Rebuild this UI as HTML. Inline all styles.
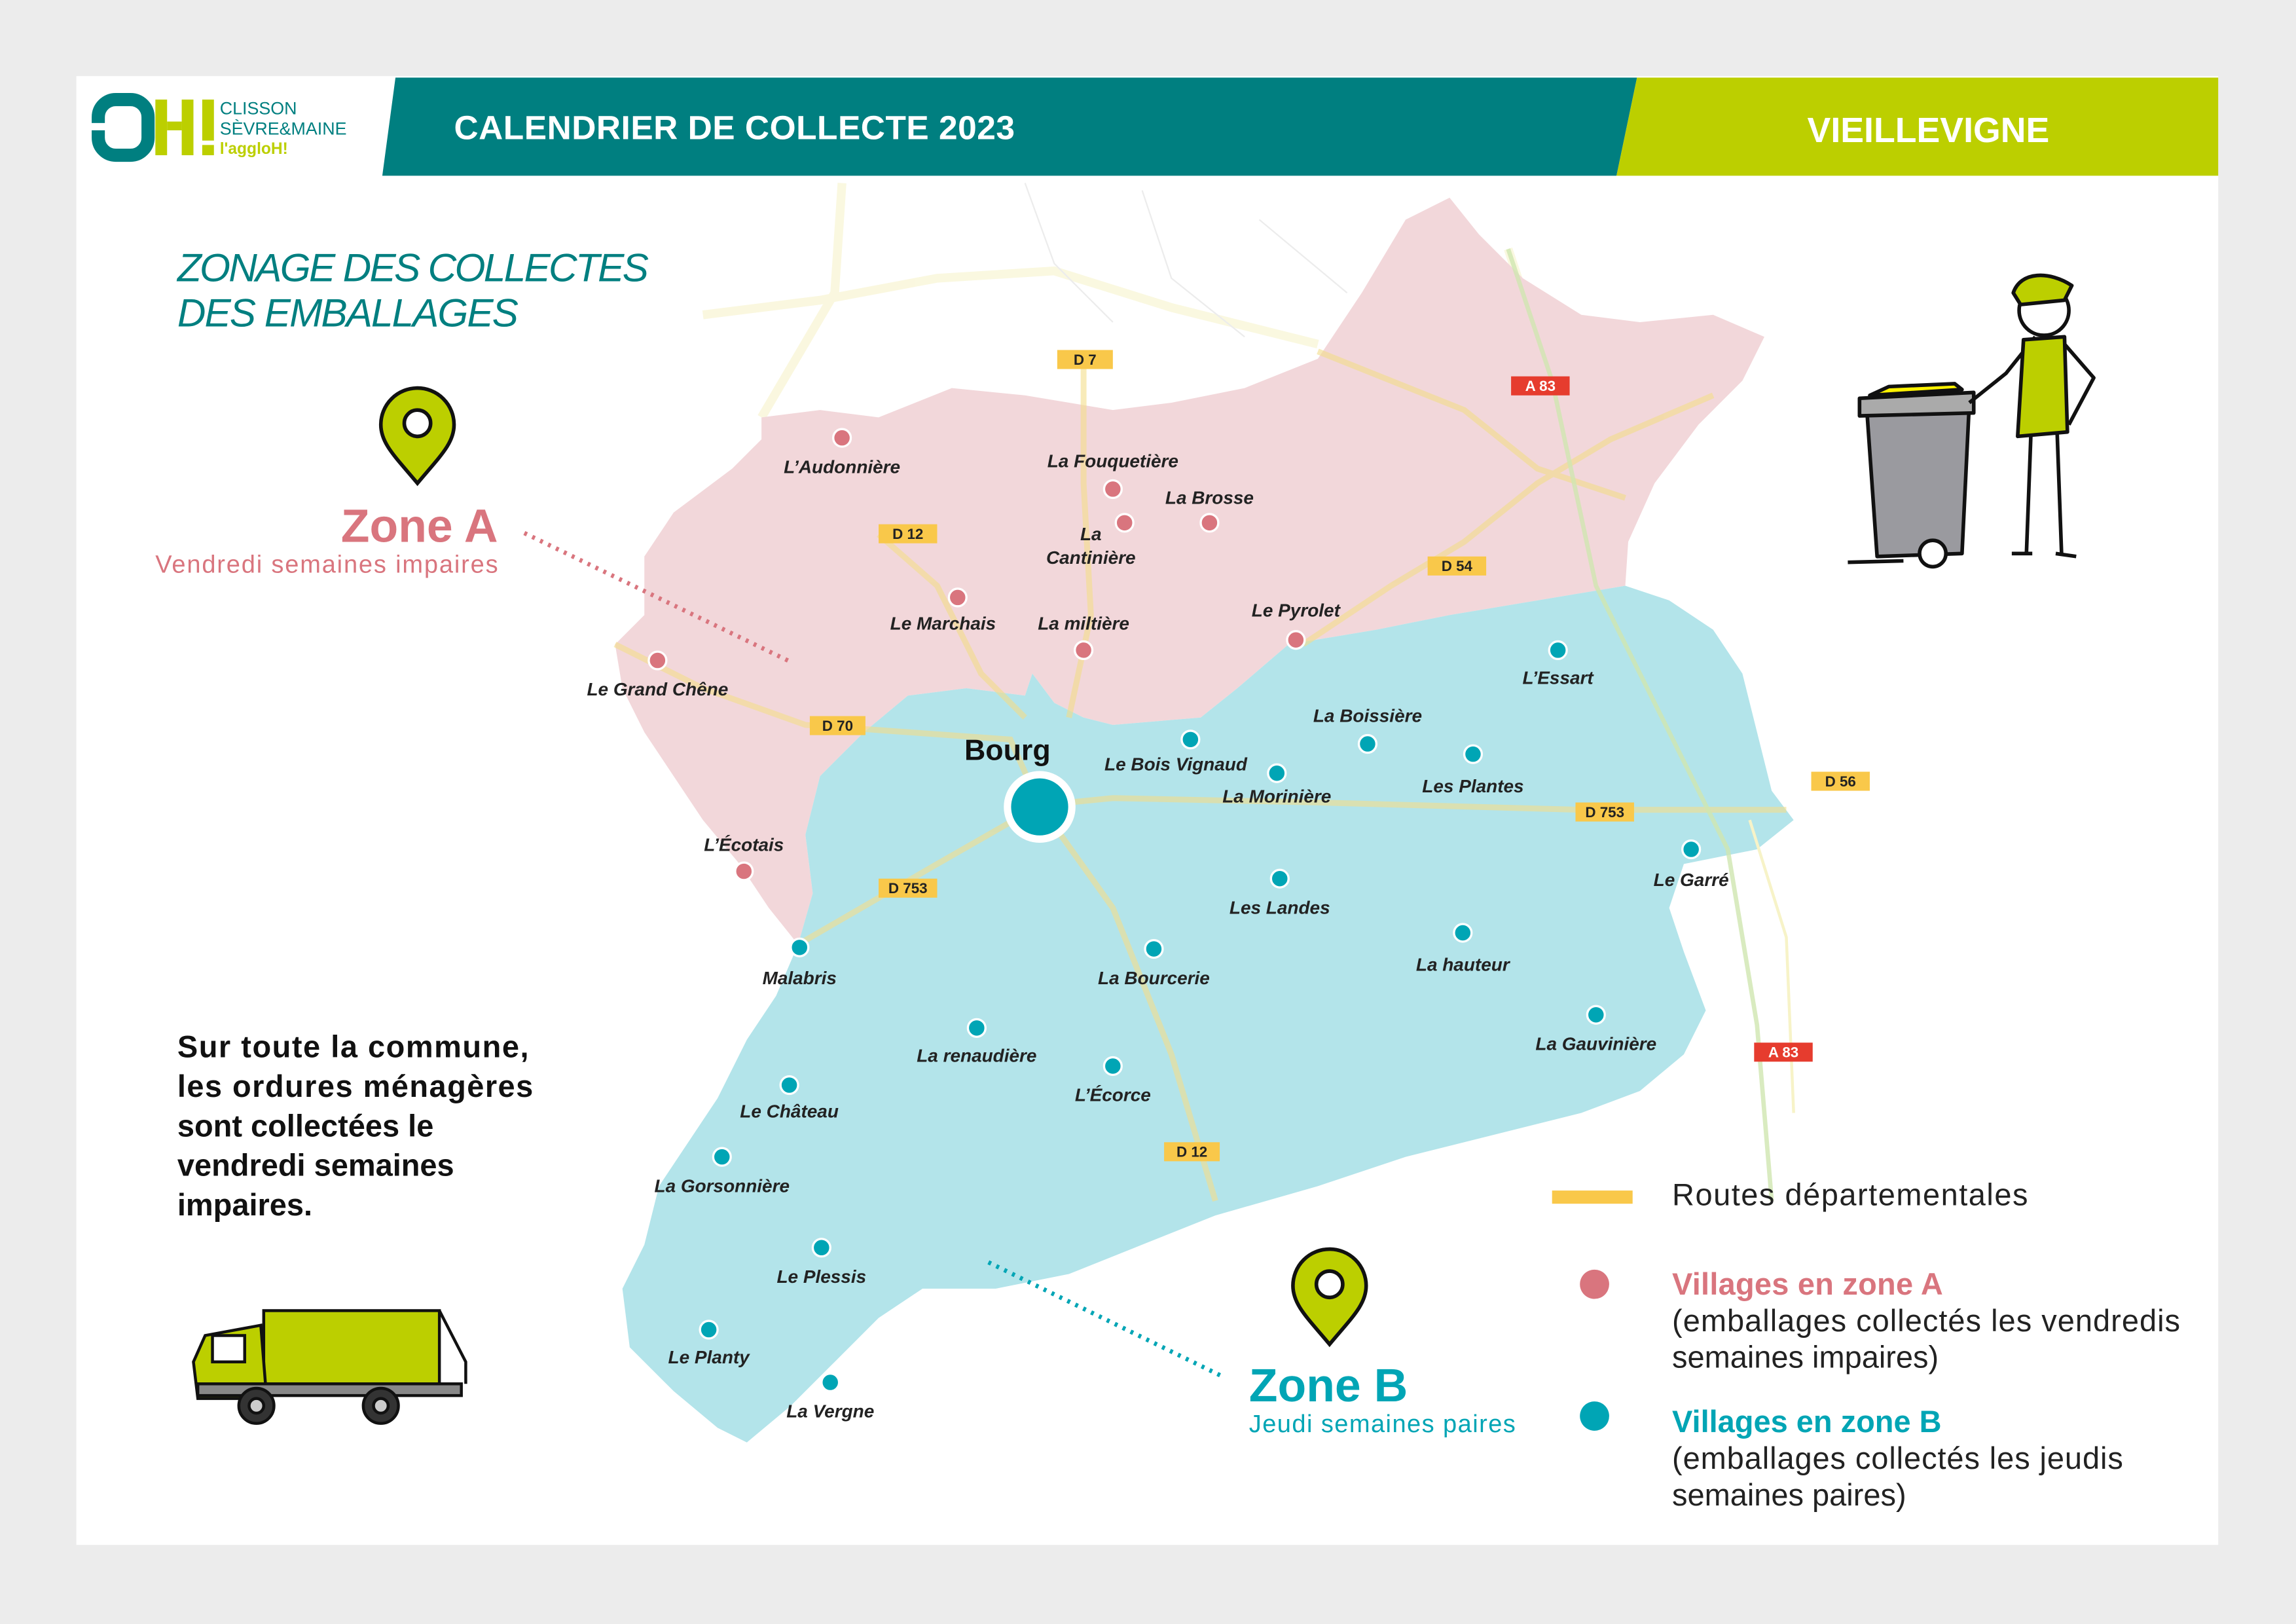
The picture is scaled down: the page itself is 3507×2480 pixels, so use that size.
<!DOCTYPE html>
<html><head><meta charset="utf-8">
<style>
html,body{margin:0;padding:0;background:#ececec;}
svg{display:block;}
text{font-family:"Liberation Sans",sans-serif;}
.v{font-size:12.5px;font-weight:bold;font-style:italic;fill:#222;}
.r{font-size:10px;font-weight:bold;fill:#222;}
</style></head><body>
<svg width="3507" height="2480" viewBox="0 0 1568 1109" xmlns="http://www.w3.org/2000/svg">
<rect width="1568" height="1109" fill="#ececec"/>
<rect x="52" y="52" width="1463" height="1003" fill="#fff"/>
<!-- header -->
<polygon points="270,53 1118,53 1104,120 261,120" fill="#007f80"/>
<polygon points="1118,53 1515,53 1515,120 1104,120" fill="#bccf00"/>
<text x="310" y="95" font-size="23" font-weight="bold" fill="#fff" textLength="383">CALENDRIER DE COLLECTE 2023</text>
<text x="1317" y="97" font-size="24" font-weight="bold" fill="#fff" text-anchor="middle">VIEILLEVIGNE</text>
<!-- logo -->
<rect x="67" y="68" width="34" height="38" rx="12" fill="none" stroke="#007f80" stroke-width="9"/>
<rect x="62" y="84" width="12" height="5" fill="#fff"/>
<rect x="106" y="68" width="8" height="38" fill="#bccf00"/><rect x="124" y="68" width="8" height="38" fill="#bccf00"/><rect x="114" y="83" width="10" height="6" fill="#bccf00"/>
<rect x="138" y="68" width="8" height="28" fill="#bccf00"/><rect x="138" y="99" width="8" height="7" fill="#bccf00"/>
<text x="150" y="78" font-size="12" fill="#007f80">CLISSON</text>
<text x="150" y="92" font-size="12" fill="#007f80">SÈVRE&amp;MAINE</text>
<text x="150" y="105" font-size="11" font-weight="bold" fill="#bccf00">l'aggloH!</text>
<!-- faint background roads -->
<g fill="none" stroke="#f9f6d8" stroke-width="6" opacity="0.8">
<path d="M480,215 L560,205 L640,190 L720,185 L800,210 L900,235"/>
<path d="M575,125 L570,200 L520,285"/>
<path d="M1030,170 L1060,260"/>
</g>
<g fill="none" stroke="#ececec" stroke-width="1">
<path d="M700,125 L720,180 L760,220"/><path d="M780,130 L800,190 L850,230"/><path d="M860,150 L920,200"/>
</g>
<!-- zones -->
<polygon fill="#f2d7da" points="520,285 560,280 600,285 650,265 700,270 760,280 800,275 850,265 900,245 930,200 960,150 990,135 1010,160 1040,190 1080,215 1120,220 1170,215 1205,230 1190,260 1160,290 1130,330 1112,370 1110,400 1050,410 990,420 940,430 880,440 845,470 820,490 760,495 740,490 720,480 705,460 700,475 660,470 620,475 590,500 560,530 550,570 555,610 545,645 525,620 505,590 480,560 460,530 440,500 425,470 420,440 440,420 440,380 460,350 500,320 520,300"/>
<polygon fill="#b3e4ea" points="545,645 555,610 550,570 560,530 590,500 620,475 660,470 700,475 705,460 720,480 740,490 760,495 820,490 845,470 880,440 940,430 990,420 1050,410 1110,400 1140,410 1170,430 1190,460 1200,500 1210,540 1225,560 1200,580 1150,590 1140,620 1150,650 1165,690 1150,720 1120,745 1080,760 1040,770 1000,780 960,790 900,810 830,830 780,850 730,870 680,880 630,880 600,900 570,930 540,960 510,985 490,975 460,950 430,920 425,880 440,850 450,810 470,780 490,750 510,710 530,680"/>
<!-- roads -->
<g fill="none" stroke="#f3dd8a" stroke-width="4" opacity="0.6">
<path d="M420,440 L480,470 L550,495 L620,500 L690,505 L710,550"/>
<path d="M710,550 L760,545 L900,548 L1080,553 L1220,553"/>
<path d="M710,550 L640,590 L545,645"/>
<path d="M710,550 L760,620 L800,720 L830,820"/>
<path d="M740,250 L740,330 L745,420 L730,490"/>
<path d="M600,365 L640,400 L670,460 L700,490"/>
<path d="M890,440 L950,400 L1000,370 L1050,330 L1100,300 L1170,270"/>
<path d="M900,240 L1000,280 L1050,320 L1110,340"/>
</g>
<path d="M1030,170 L1060,260 L1090,400 L1130,480 L1180,580 L1200,700 L1210,820" fill="none" stroke="#cfe6b0" stroke-width="3" opacity="0.8"/>
<path d="M1195,560 L1220,640 L1225,760" fill="none" stroke="#f7f3c8" stroke-width="2"/>
<!-- road labels -->
<g>
<rect x="722" y="239" width="38" height="13" fill="#f9c84a"/><text class="r" x="741" y="249" text-anchor="middle">D 7</text>
<rect x="600" y="358" width="40" height="13" fill="#f9c84a"/><text class="r" x="620" y="368" text-anchor="middle">D 12</text>
<rect x="975" y="380" width="40" height="13" fill="#f9c84a"/><text class="r" x="995" y="390" text-anchor="middle">D 54</text>
<rect x="553" y="489" width="38" height="13" fill="#f9c84a"/><text class="r" x="572" y="499" text-anchor="middle">D 70</text>
<rect x="1076" y="548" width="40" height="13" fill="#f9c84a"/><text class="r" x="1096" y="558" text-anchor="middle">D 753</text>
<rect x="1237" y="527" width="40" height="13" fill="#f9c84a"/><text class="r" x="1257" y="537" text-anchor="middle">D 56</text>
<rect x="600" y="600" width="40" height="13" fill="#f9c84a"/><text class="r" x="620" y="610" text-anchor="middle">D 753</text>
<rect x="795" y="780" width="38" height="13" fill="#f9c84a"/><text class="r" x="814" y="790" text-anchor="middle">D 12</text>
<rect x="1032" y="257" width="40" height="13" fill="#e63c2e"/><text class="r" x="1052" y="267" text-anchor="middle" style="fill:#fff">A 83</text>
<rect x="1198" y="712" width="40" height="13" fill="#e63c2e"/><text class="r" x="1218" y="722" text-anchor="middle" style="fill:#fff">A 83</text>
</g>
<!-- villages A -->
<g fill="#d9757e" stroke="#fff" stroke-width="1.5">
<circle cx="575" cy="299" r="6"/><circle cx="760" cy="334" r="6"/><circle cx="768" cy="357" r="6"/><circle cx="826" cy="357" r="6"/>
<circle cx="654" cy="408" r="6"/><circle cx="740" cy="444" r="6"/><circle cx="885" cy="437" r="6"/><circle cx="449" cy="451" r="6"/><circle cx="508" cy="595" r="6"/>
</g>
<!-- villages B -->
<g fill="#00a5b5" stroke="#fff" stroke-width="1.5">
<circle cx="1064" cy="444" r="6"/><circle cx="813" cy="505" r="6"/><circle cx="934" cy="508" r="6"/><circle cx="872" cy="528" r="6"/><circle cx="1006" cy="515" r="6"/>
<circle cx="1155" cy="580" r="6"/><circle cx="874" cy="600" r="6"/><circle cx="999" cy="637" r="6"/><circle cx="546" cy="647" r="6"/><circle cx="788" cy="648" r="6"/>
<circle cx="667" cy="702" r="6"/><circle cx="1090" cy="693" r="6"/><circle cx="760" cy="728" r="6"/><circle cx="539" cy="741" r="6"/><circle cx="493" cy="790" r="6"/>
<circle cx="561" cy="852" r="6"/><circle cx="484" cy="908" r="6"/><circle cx="567" cy="944" r="6"/>
</g>
<circle cx="710" cy="551" r="22" fill="#00a5b5" stroke="#fff" stroke-width="5"/>
<text x="688" y="519" font-size="20" font-weight="bold" fill="#111" text-anchor="middle">Bourg</text>
<g>
<text class="v" x="575" y="323" text-anchor="middle">L’Audonnière</text>
<text class="v" x="760" y="319" text-anchor="middle">La Fouquetière</text>
<text class="v" x="826" y="344" text-anchor="middle">La Brosse</text>
<text class="v" x="745" y="369" text-anchor="middle">La</text>
<text class="v" x="745" y="385" text-anchor="middle">Cantinière</text>
<text class="v" x="644" y="430" text-anchor="middle">Le Marchais</text>
<text class="v" x="740" y="430" text-anchor="middle">La miltière</text>
<text class="v" x="885" y="421" text-anchor="middle">Le Pyrolet</text>
<text class="v" x="449" y="475" text-anchor="middle">Le Grand Chêne</text>
<text class="v" x="508" y="581" text-anchor="middle">L’Écotais</text>
<text class="v" x="1064" y="467" text-anchor="middle">L’Essart</text>
<text class="v" x="934" y="493" text-anchor="middle">La Boissière</text>
<text class="v" x="803" y="526" text-anchor="middle">Le Bois Vignaud</text>
<text class="v" x="872" y="548" text-anchor="middle">La Morinière</text>
<text class="v" x="1006" y="541" text-anchor="middle">Les Plantes</text>
<text class="v" x="1155" y="605" text-anchor="middle">Le Garré</text>
<text class="v" x="874" y="624" text-anchor="middle">Les Landes</text>
<text class="v" x="999" y="663" text-anchor="middle">La hauteur</text>
<text class="v" x="546" y="672" text-anchor="middle">Malabris</text>
<text class="v" x="788" y="672" text-anchor="middle">La Bourcerie</text>
<text class="v" x="667" y="725" text-anchor="middle">La renaudière</text>
<text class="v" x="1090" y="717" text-anchor="middle">La Gauvinière</text>
<text class="v" x="760" y="752" text-anchor="middle">L’Écorce</text>
<text class="v" x="539" y="763" text-anchor="middle">Le Château</text>
<text class="v" x="493" y="814" text-anchor="middle">La Gorsonnière</text>
<text class="v" x="561" y="876" text-anchor="middle">Le Plessis</text>
<text class="v" x="484" y="931" text-anchor="middle">Le Planty</text>
<text class="v" x="567" y="968" text-anchor="middle">La Vergne</text>
</g>
<!-- title -->
<text x="121" y="192" font-size="27" font-style="italic" fill="#007f80" textLength="322">ZONAGE DES COLLECTES</text>
<text x="121" y="223" font-size="27" font-style="italic" fill="#007f80" textLength="233">DES EMBALLAGES</text>
<!-- pins -->
<g>
<path d="M285,330 C270,312 260,303 260,290 A25,25 0 0 1 310,290 C310,303 300,312 285,330 Z" fill="#bccf00" stroke="#111" stroke-width="2.5"/>
<circle cx="285" cy="289" r="9" fill="#fff" stroke="#111" stroke-width="2.5"/>
<path d="M908,918 C893,900 883,891 883,878 A25,25 0 0 1 933,878 C933,891 923,900 908,918 Z" fill="#bccf00" stroke="#111" stroke-width="2.5"/>
<circle cx="908" cy="877" r="9" fill="#fff" stroke="#111" stroke-width="2.5"/>
</g>
<text x="340" y="370" font-size="32" font-weight="bold" fill="#d9757e" text-anchor="end">Zone A</text>
<text x="340" y="391" font-size="17" fill="#d9757e" text-anchor="end" textLength="234">Vendredi semaines impaires</text>
<path d="M358,364 L540,452" stroke="#d9757e" stroke-width="3" stroke-dasharray="2,4" fill="none"/>
<text x="853" y="957" font-size="32" font-weight="bold" fill="#00a5b5">Zone B</text>
<text x="853" y="978" font-size="17" fill="#00a5b5" textLength="182">Jeudi semaines paires</text>
<path d="M675,862 L835,940" stroke="#00a5b5" stroke-width="3" stroke-dasharray="2,4" fill="none"/>
<!-- left text -->
<g font-size="21" font-weight="bold" fill="#111">
<text x="121" y="722" textLength="240">Sur toute la commune,</text>
<text x="121" y="749" textLength="243">les ordures ménagères</text>
<text x="121" y="776">sont collectées le</text>
<text x="121" y="803">vendredi semaines</text>
<text x="121" y="830">impaires.</text>
</g>
<!-- truck -->
<g stroke="#111" stroke-width="2">
<rect x="180" y="895" width="120" height="50" fill="#bccf00"/>
<path d="M140,912 L178,905 L182,955 L135,955 L132,930 Z" fill="#bccf00"/>
<rect x="145" y="912" width="22" height="18" fill="#fff"/>
<rect x="135" y="945" width="180" height="8" fill="#888"/>
<circle cx="175" cy="960" r="12" fill="#333"/><circle cx="175" cy="960" r="5" fill="#ccc"/>
<circle cx="260" cy="960" r="12" fill="#333"/><circle cx="260" cy="960" r="5" fill="#ccc"/>
<path d="M300,895 L318,930 L318,945" fill="none"/>
</g>
<!-- bin & person -->
<g stroke="#111" stroke-width="2.5" stroke-linejoin="round">
<path d="M1275,280 L1345,275 L1340,378 L1282,380 Z" fill="#9a9a9f"/>
<path d="M1270,272 L1348,268 L1348,282 L1270,284 Z" fill="#aaa"/>
<path d="M1277,270 L1340,266 L1335,262 L1290,264 Z" fill="#fff200"/>
<circle cx="1320" cy="378" r="9" fill="#fff"/>
<path d="M1262,384 L1300,383" fill="none"/>
<path d="M1345,275 L1370,255 L1390,230" fill="none"/>
<circle cx="1396" cy="212" r="17" fill="#fff"/>
<path d="M1375,200 C1380,185 1400,185 1415,195 L1410,205 L1380,208 Z" fill="#bccf00"/>
<path d="M1382,232 L1410,230 L1412,295 L1378,298 Z" fill="#bccf00"/>
<path d="M1410,235 L1430,258 L1413,290" fill="none"/>
<path d="M1387,298 L1384,378 M1405,296 L1408,378" fill="none"/>
<path d="M1374,378 L1388,378 M1404,378 L1418,380" fill="none"/>
</g>
<!-- legend -->
<rect x="1060" y="813" width="55" height="9" fill="#f9c84a"/>
<text x="1142" y="823" font-size="21" fill="#222" textLength="243">Routes départementales</text>
<circle cx="1089" cy="877" r="10" fill="#d9757e"/>
<text x="1142" y="884" font-size="21" font-weight="bold" fill="#d9757e" textLength="185">Villages en zone A</text>
<text x="1142" y="909" font-size="21" fill="#222" textLength="347">(emballages collectés les vendredis</text>
<text x="1142" y="934" font-size="21" fill="#222">semaines impaires)</text>
<circle cx="1089" cy="967" r="10" fill="#00a5b5"/>
<text x="1142" y="978" font-size="21" font-weight="bold" fill="#00a5b5" textLength="184">Villages en zone B</text>
<text x="1142" y="1003" font-size="21" fill="#222" textLength="308">(emballages collectés les jeudis</text>
<text x="1142" y="1028" font-size="21" fill="#222">semaines paires)</text>
</svg>
</body></html>
